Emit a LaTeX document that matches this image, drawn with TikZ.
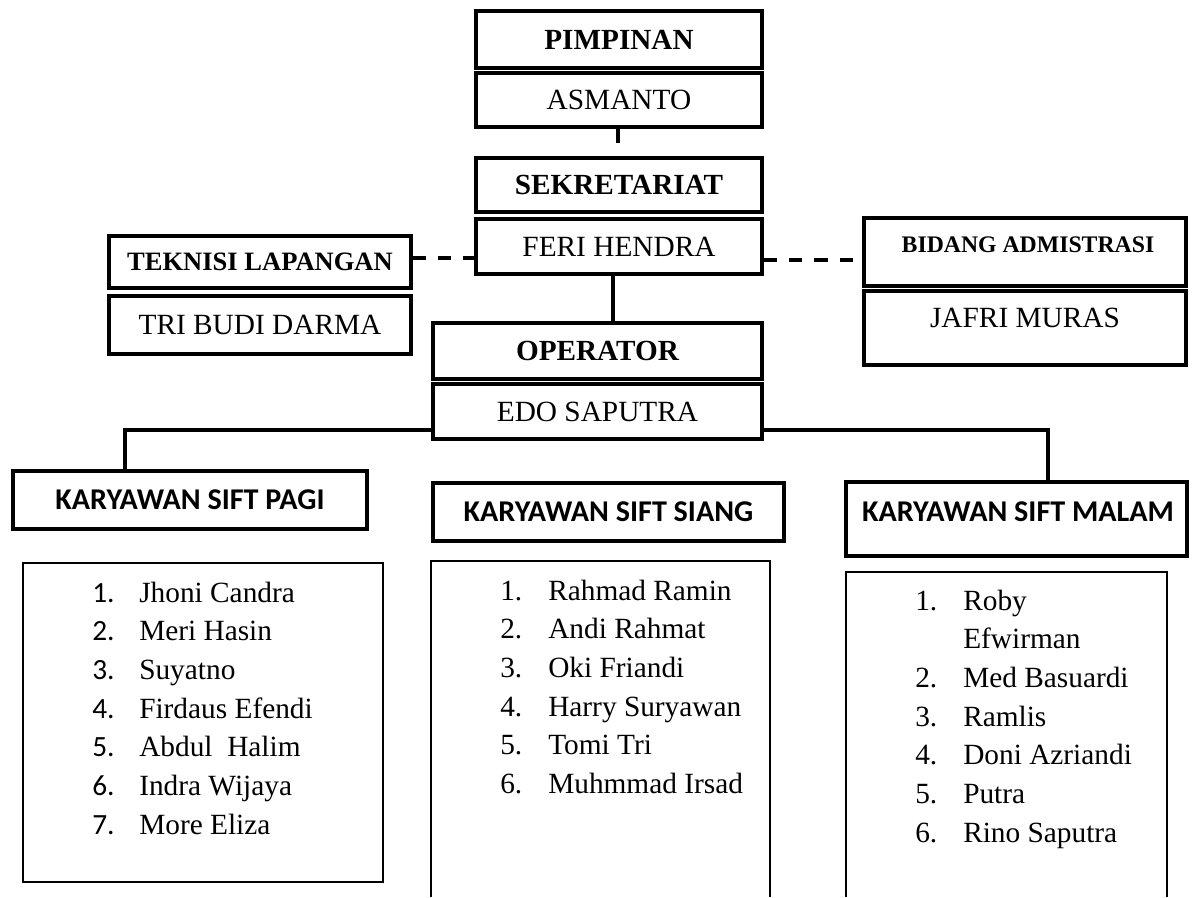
\documentclass[tikz,border=0pt]{standalone}
\usepackage{fontspec}
\setmainfont{Liberation Serif}
\newfontfamily\calib{Carlito}
\begin{document}
\begin{tikzpicture}[x=0.75pt,y=-0.75pt,
  nb/.style={draw, line width=2.5pt, inner sep=0pt, font=\fontsize{22}{26}\selectfont},
  tb/.style={nb, font=\fontsize{21.9}{26}\selectfont\bfseries},
  kbox/.style={draw, line width=2.3pt, inner sep=0pt, font=\calib\fontsize{22.6}{26}\selectfont\bfseries},
  lbox/.style={inner sep=0pt},
  lborder/.style={line width=1.3pt},
  ltext/.style={anchor=base west, inner sep=0pt, font=\fontsize{22}{29}\selectfont},
  conn/.style={line width=2.5pt},
  dconn/.style={conn, dash pattern=on 10pt off 9pt}]
\useasboundingbox (0,0) rectangle (1195,897);

% top chain
\node[tb, minimum width=286*0.75pt, minimum height=57*0.75pt] (pim) at (619,39.5) {PIMPINAN};
\node[nb, minimum width=286*0.75pt, minimum height=54*0.75pt] (asm) at (619,100) {ASMANTO};
\node[tb, minimum width=286*0.75pt, minimum height=54*0.75pt] (sek) at (619,185) {SEKRETARIAT};
\node[nb, minimum width=286*0.75pt, minimum height=55*0.75pt] (feri) at (619,246.5) {FERI HENDRA};
\node[tb, minimum width=329*0.75pt, minimum height=56*0.75pt] (op) at (597.5,351) {OPERATOR};
\node[nb, minimum width=329*0.75pt, minimum height=55*0.75pt] (edo) at (597.5,411.5) {EDO SAPUTRA};

% left side
\node[tb, font=\fontsize{19.9}{24}\selectfont\bfseries, minimum width=302*0.75pt, minimum height=52*0.75pt] (tek) at (260,262) {TEKNISI LAPANGAN};
\node[nb, minimum width=302*0.75pt, minimum height=58*0.75pt] (tri) at (260,325) {TRI BUDI DARMA};

% right side
\node[nb, minimum width=322*0.75pt, minimum height=68*0.75pt] (bid) at (1025,252) {};
\node[inner sep=0pt, font=\fontsize{17.8}{22}\selectfont\bfseries] (bidt) at (1028,245) {BIDANG ADMISTRASI};
\node[nb, minimum width=322*0.75pt, minimum height=74*0.75pt] (jaf) at (1025,328) {};
\node[inner sep=0pt, font=\fontsize{22}{26}\selectfont] (jaft) at (1025,318) {JAFRI MURAS};

% shift headers
\node[kbox, minimum width=354*0.75pt, minimum height=58*0.75pt] (pagi) at (190,500) {KARYAWAN SIFT PAGI};
\node[kbox, minimum width=351*0.75pt, minimum height=58*0.75pt] (siang) at (608.5,512) {KARYAWAN SIFT SIANG};
\node[kbox, minimum width=341*0.75pt, minimum height=74*0.75pt] (malam) at (1016.5,519) {};
\node[inner sep=0pt, font=\calib\fontsize{22.6}{26}\selectfont\bfseries] (malamt) at (1018,512) {KARYAWAN SIFT MALAM};

% list boxes
\node[lbox, draw, lborder, minimum width=360*0.75pt, minimum height=319*0.75pt] (lpagi) at (203,722.5) {};
\node[lbox, minimum width=339*0.75pt, minimum height=336*0.75pt] (lsiang) at (600.5,729) {};
\draw[lborder] (lsiang.south west) |- (lsiang.north east) -- (lsiang.south east);
\node[lbox, minimum width=321*0.75pt, minimum height=325*0.75pt] (lmalam) at (1006.5,734.5) {};
\draw[lborder] (lmalam.south west) |- (lmalam.north east) -- (lmalam.south east);

\node[ltext] (tpagi) at (92,602) {\begin{tabular}[t]{@{}p{35.25pt}@{}l@{}}
{\calib 1.} & Jhoni Candra\\
{\calib 2.} & Meri Hasin\\
{\calib 3.} & Suyatno\\
{\calib 4.} & Firdaus Efendi\\
{\calib 5.} & Abdul~~Halim\\
{\calib 6.} & Indra Wijaya\\
{\calib 7.} & More Eliza
\end{tabular}};

\node[ltext] (tsiang) at (500,600) {\begin{tabular}[t]{@{}p{36pt}@{}l@{}}
1. & Rahmad Ramin\\
2. & Andi Rahmat\\
3. & Oki Friandi\\
4. & Harry Suryawan\\
5. & Tomi Tri\\
6. & Muhmmad Irsad
\end{tabular}};

\node[ltext] (tmalam) at (915,610) {\begin{tabular}[t]{@{}p{36pt}@{}l@{}}
1. & Roby\\
   & Efwirman\\
2. & Med Basuardi\\
3. & Ramlis\\
4. & Doni Azriandi\\
5. & Putra\\
6. & Rino Saputra
\end{tabular}};

% connectors
\coordinate (stub) at (618,143);
\draw[conn] (stub |- asm.south) -- (stub);
\draw[conn] ([xshift=-4.5pt]feri.south) -- ([xshift=-4.5pt]feri.south |- op.north);
\draw[conn] ([yshift=-13.9pt]edo.west) -| ([xshift=-48.75pt]pagi.north);
\draw[conn] ([yshift=-13.9pt]edo.east) -| ([xshift=23.6pt]malam.north);
\draw[dconn] ([yshift=3pt]tek.east) -- ([yshift=3pt]tek.east -| feri.west);
\draw[dconn] ([yshift=-10.1pt]feri.east) -- ([yshift=-10.1pt]feri.east -| bid.west);
\end{tikzpicture}
\end{document}
